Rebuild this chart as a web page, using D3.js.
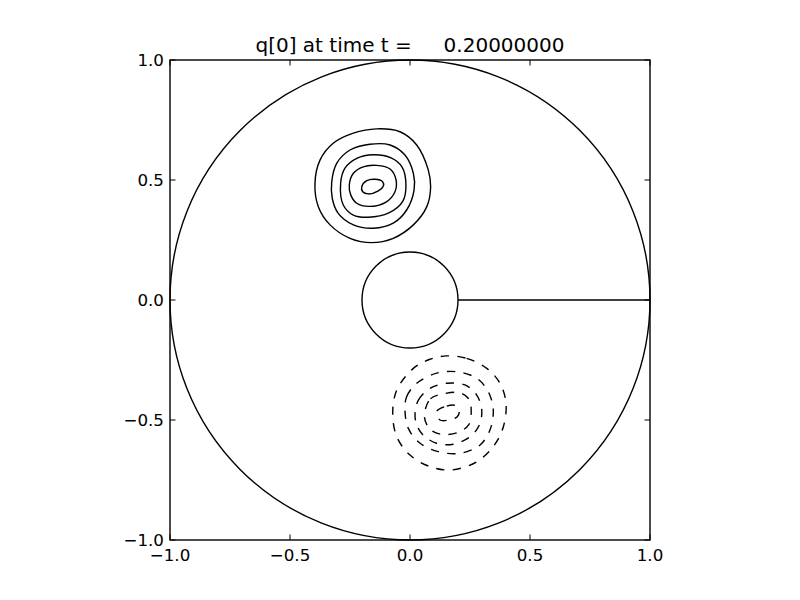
<!DOCTYPE html>
<html>
<head>
<meta charset="utf-8">
<script src="https://cdn.jsdelivr.net/npm/d3@7"></script>
<style>
  body { margin: 0; background: #fff; }
  text { font-family: "DejaVu Sans", sans-serif; }
</style>
</head>
<body>
<script>
let width = 800;
let height = 600;

// axis ticks
let tickValues = [-1.0, -0.5, 0.0, 0.5, 1.0];
let titleText = "q[0] at time t =     0.20000000";

// geometry of the domain
let outerRadius = 1.0;
let innerRadius = 0.2;
let cutLine = [[0.2, 0.0], [1.0, 0.0]];

// positive contours (solid)
let posContour1 = [[-0.396, 0.486], [-0.375, 0.583], [-0.320, 0.653], [-0.236, 0.695], [-0.139, 0.713], [-0.042, 0.701], [0.028, 0.646], [0.076, 0.542], [0.086, 0.472], [0.070, 0.389], [0.014, 0.313], [-0.070, 0.257], [-0.160, 0.239], [-0.250, 0.257], [-0.333, 0.313], [-0.382, 0.389]];
let posContour2 = [[-0.326, 0.493], [-0.305, 0.570], [-0.250, 0.625], [-0.167, 0.649], [-0.083, 0.646], [-0.021, 0.604], [0.014, 0.528], [0.017, 0.458], [-0.014, 0.375], [-0.070, 0.320], [-0.153, 0.299], [-0.236, 0.313], [-0.299, 0.361], [-0.324, 0.424]];
let posContour3 = [[-0.289, 0.486], [-0.271, 0.549], [-0.222, 0.590], [-0.153, 0.605], [-0.079, 0.592], [-0.033, 0.554], [-0.017, 0.483], [-0.029, 0.413], [-0.088, 0.363], [-0.174, 0.345], [-0.236, 0.354], [-0.278, 0.396]];
let posContour4 = [[-0.253, 0.479], [-0.236, 0.528], [-0.195, 0.555], [-0.139, 0.561], [-0.083, 0.546], [-0.058, 0.500], [-0.063, 0.450], [-0.100, 0.408], [-0.170, 0.390], [-0.222, 0.403], [-0.247, 0.438]];
let posContour5 = [[-0.201, 0.472], [-0.180, 0.497], [-0.146, 0.503], [-0.114, 0.493], [-0.111, 0.475], [-0.132, 0.455], [-0.174, 0.442], [-0.197, 0.451]];

// negative contours (dashed)
let negContour1 = [[0.153, -0.233], [0.236, -0.243], [0.320, -0.285], [0.375, -0.347], [0.400, -0.430], [0.389, -0.528], [0.347, -0.611], [0.278, -0.674], [0.174, -0.708], [0.083, -0.694], [0.000, -0.646], [-0.055, -0.570], [-0.072, -0.472], [-0.055, -0.375], [0.014, -0.285], [0.083, -0.247]];
let negContour2 = [[-0.021, -0.458], [-0.014, -0.403], [0.028, -0.347], [0.111, -0.305], [0.195, -0.299], [0.278, -0.326], [0.326, -0.382], [0.347, -0.458], [0.333, -0.542], [0.292, -0.604], [0.208, -0.639], [0.118, -0.632], [0.042, -0.597], [-0.007, -0.535]];
let negContour3 = [[0.021, -0.472], [0.035, -0.417], [0.083, -0.368], [0.153, -0.347], [0.229, -0.354], [0.278, -0.396], [0.299, -0.458], [0.289, -0.521], [0.250, -0.570], [0.180, -0.601], [0.111, -0.597], [0.055, -0.563], [0.028, -0.521]];
let negContour4 = [[0.060, -0.486], [0.085, -0.412], [0.139, -0.391], [0.205, -0.386], [0.245, -0.412], [0.255, -0.465], [0.245, -0.519], [0.199, -0.552], [0.132, -0.560], [0.085, -0.540]];
let negContour5 = [[0.111, -0.465], [0.153, -0.442], [0.188, -0.439], [0.205, -0.463], [0.197, -0.486], [0.160, -0.500], [0.125, -0.500]];

let posContours = [posContour1, posContour2, posContour3, posContour4, posContour5];
let negContours = [negContour1, negContour2, negContour3, negContour4, negContour5];

let axLeft = 170, axTop = 60, axSize = 480;

let svg = d3.select("body").append("svg")
            .attr("width", width)
            .attr("height", height);

let x = d3.scaleLinear().domain([-1, 1]).range([axLeft, axLeft + axSize]);
let y = d3.scaleLinear().domain([-1, 1]).range([axTop + axSize, axTop]);

let line = d3.line()
             .x(function(d) { return x(d[0]); })
             .y(function(d) { return y(d[1]); })
             .curve(d3.curveCatmullRomClosed.alpha(0.5));

let plot = svg.append("g");

// domain boundaries
plot.append("circle")
    .attr("cx", x(0)).attr("cy", y(0))
    .attr("r", x(outerRadius) - x(0))
    .attr("fill", "none").attr("stroke", "#000").attr("stroke-width", 1.4);

plot.append("circle")
    .attr("cx", x(0)).attr("cy", y(0))
    .attr("r", x(innerRadius) - x(0))
    .attr("fill", "none").attr("stroke", "#000").attr("stroke-width", 1.4);

plot.append("line")
    .attr("x1", x(cutLine[0][0])).attr("y1", y(cutLine[0][1]))
    .attr("x2", x(cutLine[1][0])).attr("y2", y(cutLine[1][1]))
    .attr("stroke", "#000").attr("stroke-width", 1.4);

plot.selectAll("path.pos")
    .data(posContours)
    .enter().append("path")
    .attr("class", "pos")
    .attr("d", line)
    .attr("fill", "none").attr("stroke", "#000").attr("stroke-width", 1.4);

plot.selectAll("path.neg")
    .data(negContours)
    .enter().append("path")
    .attr("class", "neg")
    .attr("d", line)
    .attr("fill", "none").attr("stroke", "#000").attr("stroke-width", 1.4)
    .attr("stroke-dasharray", "8.3,8.3");

// axes frame
svg.append("rect")
   .attr("x", axLeft).attr("y", axTop)
   .attr("width", axSize).attr("height", axSize)
   .attr("fill", "none").attr("stroke", "#000").attr("stroke-width", 1.4);

function fmt(v) {
  return d3.format(".1f")(v).replace("-", "\u2212");
}

let tickLen = 5.5;
let ticks = svg.append("g").attr("stroke", "#000").attr("stroke-width", 1);
tickValues.forEach(function(v) {
  ticks.append("line").attr("x1", x(v)).attr("x2", x(v)).attr("y1", axTop + axSize).attr("y2", axTop + axSize - tickLen);
  ticks.append("line").attr("x1", x(v)).attr("x2", x(v)).attr("y1", axTop).attr("y2", axTop + tickLen);
  ticks.append("line").attr("y1", y(v)).attr("y2", y(v)).attr("x1", axLeft).attr("x2", axLeft + tickLen);
  ticks.append("line").attr("y1", y(v)).attr("y2", y(v)).attr("x1", axLeft + axSize).attr("x2", axLeft + axSize - tickLen);
});

svg.append("g").selectAll("text")
   .data(tickValues)
   .enter().append("text")
   .attr("x", function(d) { return x(d); })
   .attr("y", axTop + axSize + 21)
   .attr("text-anchor", "middle")
   .attr("font-size", "16.7px")
   .text(fmt);

svg.append("g").selectAll("text")
   .data(tickValues)
   .enter().append("text")
   .attr("x", axLeft - 6)
   .attr("y", function(d) { return y(d) + 6; })
   .attr("text-anchor", "end")
   .attr("font-size", "16.7px")
   .text(fmt);

svg.append("text")
   .attr("x", axLeft + axSize / 2)
   .attr("y", 52)
   .attr("text-anchor", "middle")
   .attr("font-size", "20px")
   .style("white-space", "pre")
   .text(titleText);
</script>
</body>
</html>
